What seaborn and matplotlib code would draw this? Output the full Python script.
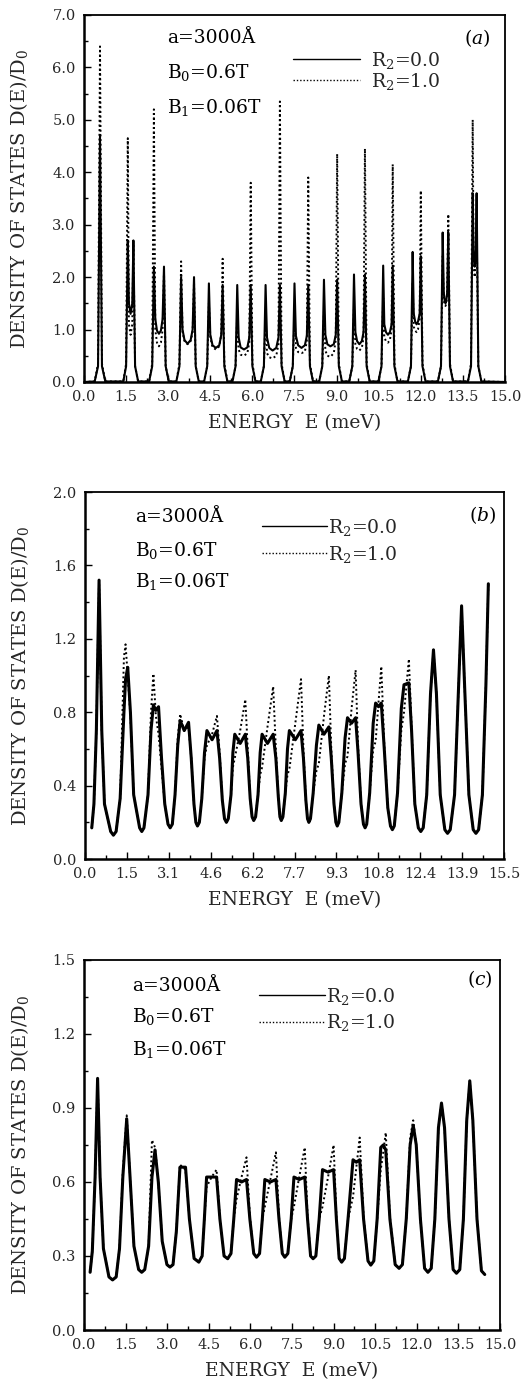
import matplotlib
matplotlib.use("Agg")
import matplotlib.pyplot as plt
import seaborn as sns
from matplotlib.ticker import FixedLocator, MultipleLocator

# ---------------- data ----------------
# Panel (a)
a_energy = [
    0.00, 0.38, 0.50, 0.57, 0.64, 0.76,
    1.40, 1.50, 1.56, 1.60, 1.66, 1.72, 1.76, 1.82, 1.93,
    2.32, 2.43, 2.49, 2.54, 2.60, 2.67, 2.74, 2.80, 2.85, 2.91, 3.02,
    3.29, 3.40, 3.46, 3.51, 3.58, 3.69, 3.80, 3.87, 3.92, 3.98, 4.09,
    4.28, 4.39, 4.45, 4.50, 4.58, 4.70, 4.82, 4.89, 4.94, 5.00, 5.11,
    5.29, 5.40, 5.46, 5.51, 5.58, 5.70, 5.82, 5.89, 5.94, 6.00, 6.11,
    6.30, 6.41, 6.47, 6.52, 6.60, 6.72, 6.85, 6.93, 6.98, 7.04, 7.15,
    7.33, 7.44, 7.50, 7.55, 7.63, 7.75, 7.87, 7.94, 7.99, 8.05, 8.16,
    8.38, 8.49, 8.55, 8.60, 8.67, 8.78, 8.90, 8.97, 9.02, 9.08, 9.19,
    9.45, 9.56, 9.62, 9.67, 9.73, 9.81, 9.90, 9.96, 10.01, 10.07, 10.18,
    10.49, 10.60, 10.66, 10.70, 10.76, 10.83, 10.90, 10.96, 11.00, 11.06, 11.17,
    11.54, 11.65, 11.71, 11.75, 11.80, 11.85, 11.90, 11.96, 12.00, 12.06, 12.17,
    12.61, 12.72, 12.78, 12.82, 12.85, 12.88, 12.91, 12.94, 12.98, 13.04, 13.15,
    13.68, 13.79, 13.85, 13.88, 13.90, 13.92, 13.94, 13.96, 13.99, 14.05, 14.16,
    15.00,
]
a_r0 = [
    0.0, 0.01, 0.3, 4.7, 0.3, 0.01,
    0.01, 0.3, 2.7, 1.5, 1.3, 1.5, 2.7, 0.3, 0.01,
    0.01, 0.3, 2.2, 1.2, 0.98, 0.92, 0.98, 1.2, 2.2, 0.3, 0.01,
    0.01, 0.3, 2.0, 1.0, 0.8, 0.73, 0.8, 1.0, 2.0, 0.3, 0.01,
    0.01, 0.3, 1.88, 0.9, 0.7, 0.65, 0.7, 0.9, 1.85, 0.3, 0.01,
    0.01, 0.3, 1.85, 0.85, 0.66, 0.62, 0.66, 0.85, 1.85, 0.3, 0.01,
    0.01, 0.3, 1.85, 0.85, 0.65, 0.6, 0.65, 0.85, 1.85, 0.3, 0.01,
    0.01, 0.3, 1.88, 0.88, 0.7, 0.65, 0.7, 0.88, 1.85, 0.3, 0.01,
    0.01, 0.3, 1.95, 0.9, 0.72, 0.68, 0.72, 0.9, 1.95, 0.3, 0.01,
    0.01, 0.3, 2.05, 0.95, 0.78, 0.72, 0.78, 0.95, 2.05, 0.3, 0.01,
    0.01, 0.3, 2.22, 1.1, 0.95, 0.9, 0.95, 1.1, 2.22, 0.3, 0.01,
    0.01, 0.3, 2.48, 1.3, 1.15, 1.1, 1.15, 1.3, 2.4, 0.3, 0.01,
    0.01, 0.3, 2.85, 1.7, 1.55, 1.5, 1.55, 1.7, 2.85, 0.3, 0.01,
    0.01, 0.3, 3.6, 2.5, 2.3, 2.2, 2.3, 2.5, 3.6, 0.3, 0.01,
    0.0,
]
a_r1 = [
    0.0, 0.01, 0.35, 6.4, 0.35, 0.01,
    0.01, 0.35, 4.65, 1.1, 0.9, 1.1, 2.6, 0.3, 0.01,
    0.01, 0.35, 5.2, 1.0, 0.75, 0.68, 0.75, 1.0, 2.1, 0.3, 0.01,
    0.01, 0.35, 2.3, 0.95, 0.78, 0.72, 0.78, 0.95, 1.9, 0.3, 0.01,
    0.01, 0.3, 1.5, 0.85, 0.66, 0.62, 0.68, 0.9, 2.35, 0.35, 0.01,
    0.01, 0.3, 1.3, 0.62, 0.52, 0.5, 0.55, 0.75, 3.8, 0.35, 0.01,
    0.01, 0.3, 1.25, 0.55, 0.47, 0.45, 0.5, 0.72, 5.35, 0.35, 0.01,
    0.01, 0.3, 1.3, 0.65, 0.57, 0.55, 0.58, 0.78, 3.9, 0.35, 0.01,
    0.01, 0.3, 1.35, 0.6, 0.5, 0.48, 0.55, 0.8, 4.35, 0.35, 0.01,
    0.01, 0.3, 1.45, 0.72, 0.63, 0.6, 0.65, 0.85, 4.45, 0.35, 0.01,
    0.01, 0.3, 1.6, 0.85, 0.78, 0.75, 0.8, 1.0, 4.15, 0.35, 0.01,
    0.01, 0.3, 1.9, 1.05, 0.98, 0.95, 1.0, 1.2, 3.65, 0.35, 0.01,
    0.01, 0.3, 2.4, 1.55, 1.48, 1.45, 1.5, 1.7, 3.2, 0.35, 0.01,
    0.01, 0.35, 5.0, 2.3, 2.1, 2.0, 2.1, 2.4, 3.0, 0.3, 0.01,
    0.0,
]

# Panel (b)
b_energy = [
    0.25, 0.33, 0.42, 0.52, 0.62, 0.72, 0.95, 1.05, 1.15, 1.30,
    1.44, 1.50, 1.58, 1.68, 1.80, 2.02, 2.10, 2.18, 2.33,
    2.44, 2.53, 2.62, 2.72, 2.83, 2.95, 3.07, 3.15, 3.23, 3.33,
    3.43, 3.52, 3.67, 3.83, 3.93, 4.03, 4.10, 4.16, 4.23, 4.32,
    4.42, 4.51, 4.70, 4.88, 4.98, 5.08, 5.16, 5.23, 5.30, 5.40,
    5.47, 5.54, 5.74, 5.93, 6.02, 6.11, 6.18, 6.24, 6.31, 6.40,
    6.48, 6.55, 6.75, 6.96, 7.06, 7.15, 7.21, 7.26, 7.32, 7.41,
    7.49, 7.56, 7.78, 7.99, 8.08, 8.17, 8.23, 8.28, 8.34, 8.44,
    8.56, 8.65, 8.84, 9.02, 9.11, 9.21, 9.28, 9.33, 9.39, 9.50,
    9.62, 9.71, 9.86, 10.01, 10.10, 10.21, 10.30, 10.36, 10.42, 10.53,
    10.66, 10.75, 10.86, 10.96, 11.07, 11.20, 11.30, 11.37, 11.44, 11.56,
    11.70, 11.80, 11.98, 12.08, 12.20, 12.33, 12.42, 12.51, 12.64,
    12.78, 12.89, 13.00, 13.14, 13.31, 13.41, 13.51, 13.67,
    13.82, 13.93, 14.04, 14.20, 14.36, 14.46, 14.56, 14.70,
    14.83, 14.92,
]
b_r0 = [
    0.17, 0.30, 0.70, 1.52, 0.70, 0.30, 0.15, 0.13, 0.15, 0.33,
    0.80, 0.98, 1.045, 0.80, 0.35, 0.17, 0.15, 0.17, 0.35,
    0.70, 0.84, 0.81, 0.83, 0.55, 0.30, 0.19, 0.17, 0.19, 0.35,
    0.62, 0.755, 0.70, 0.745, 0.55, 0.30, 0.20, 0.18, 0.20, 0.33,
    0.58, 0.70, 0.65, 0.70, 0.55, 0.32, 0.22, 0.20, 0.22, 0.35,
    0.58, 0.68, 0.63, 0.68, 0.55, 0.33, 0.23, 0.21, 0.23, 0.35,
    0.58, 0.68, 0.63, 0.68, 0.55, 0.34, 0.23, 0.21, 0.23, 0.36,
    0.60, 0.70, 0.65, 0.70, 0.55, 0.32, 0.22, 0.20, 0.22, 0.36,
    0.62, 0.73, 0.68, 0.72, 0.55, 0.30, 0.20, 0.18, 0.20, 0.36,
    0.66, 0.77, 0.74, 0.77, 0.58, 0.30, 0.19, 0.17, 0.19, 0.36,
    0.74, 0.85, 0.83, 0.85, 0.60, 0.28, 0.18, 0.16, 0.18, 0.36,
    0.82, 0.95, 0.96, 0.70, 0.30, 0.17, 0.15, 0.17, 0.35,
    0.90, 1.14, 0.90, 0.35, 0.16, 0.14, 0.16, 0.35,
    0.95, 1.38, 0.95, 0.35, 0.16, 0.14, 0.16, 0.35,
    0.95, 1.50,
]
b_r1 = [
    0.17, 0.30, 0.70, 1.52, 0.70, 0.30, 0.15, 0.13, 0.15, 0.33,
    1.10, 1.17, 1.00, 0.78, 0.35, 0.17, 0.15, 0.17, 0.35,
    0.80, 1.01, 0.78, 0.68, 0.50, 0.30, 0.19, 0.17, 0.19, 0.35,
    0.66, 0.79, 0.70, 0.72, 0.55, 0.30, 0.20, 0.18, 0.20, 0.33,
    0.55, 0.62, 0.68, 0.78, 0.58, 0.32, 0.22, 0.20, 0.22, 0.35,
    0.50, 0.55, 0.70, 0.87, 0.60, 0.33, 0.23, 0.21, 0.23, 0.35,
    0.46, 0.50, 0.72, 0.94, 0.60, 0.34, 0.23, 0.21, 0.23, 0.36,
    0.46, 0.49, 0.74, 0.98, 0.60, 0.32, 0.22, 0.20, 0.22, 0.36,
    0.48, 0.52, 0.78, 1.00, 0.60, 0.30, 0.20, 0.18, 0.20, 0.36,
    0.52, 0.56, 0.82, 1.03, 0.62, 0.30, 0.19, 0.17, 0.19, 0.36,
    0.60, 0.64, 0.86, 1.05, 0.62, 0.28, 0.18, 0.16, 0.18, 0.36,
    0.70, 0.80, 1.09, 0.72, 0.30, 0.17, 0.15, 0.17, 0.35,
    0.90, 1.14, 0.90, 0.35, 0.16, 0.14, 0.16, 0.35,
    0.95, 1.38, 0.95, 0.35, 0.16, 0.14, 0.16, 0.35,
    0.95, 1.50,
]

# Panel (c)
c_energy = [
    0.22, 0.30, 0.40, 0.49, 0.58, 0.70, 0.90, 1.03, 1.16, 1.28,
    1.40, 1.54, 1.66, 1.80, 1.97, 2.08, 2.19, 2.33,
    2.45, 2.56, 2.68, 2.82, 2.99, 3.10, 3.21, 3.33,
    3.46, 3.66, 3.80, 3.97, 4.14, 4.26, 4.34,
    4.42, 4.60, 4.78, 4.90, 5.05, 5.18, 5.30, 5.40,
    5.50, 5.68, 5.86, 5.98, 6.12, 6.22, 6.33, 6.43,
    6.52, 6.72, 6.92, 7.03, 7.15, 7.24, 7.35, 7.47,
    7.57, 7.76, 7.96, 8.06, 8.17, 8.26, 8.36, 8.48,
    8.60, 8.80, 9.00, 9.10, 9.20, 9.29, 9.39, 9.52,
    9.70, 9.82, 9.94, 10.08, 10.24, 10.34, 10.45, 10.57,
    10.70, 10.79, 10.88, 11.03, 11.22, 11.36, 11.48, 11.62,
    11.76, 11.87, 11.98, 12.13, 12.28, 12.40, 12.52, 12.65,
    12.78, 12.89, 13.00, 13.16, 13.31, 13.43, 13.55, 13.68,
    13.80, 13.91, 14.02, 14.17, 14.33, 14.45,
]
c_r0 = [
    0.234, 0.32, 0.62, 1.02, 0.62, 0.33, 0.215, 0.203, 0.215, 0.33,
    0.62, 0.856, 0.62, 0.34, 0.245, 0.234, 0.245, 0.34,
    0.62, 0.73, 0.60, 0.36, 0.265, 0.255, 0.265, 0.40,
    0.66, 0.66, 0.45, 0.29, 0.275, 0.30, 0.45,
    0.62, 0.62, 0.62, 0.45, 0.30, 0.289, 0.31, 0.45,
    0.61, 0.60, 0.61, 0.45, 0.31, 0.295, 0.31, 0.45,
    0.61, 0.60, 0.61, 0.45, 0.31, 0.295, 0.31, 0.45,
    0.62, 0.61, 0.62, 0.45, 0.30, 0.289, 0.30, 0.45,
    0.65, 0.64, 0.65, 0.45, 0.29, 0.275, 0.29, 0.45,
    0.69, 0.68, 0.69, 0.45, 0.28, 0.263, 0.28, 0.45,
    0.74, 0.75, 0.73, 0.45, 0.265, 0.25, 0.265, 0.45,
    0.75, 0.83, 0.75, 0.45, 0.25, 0.234, 0.25, 0.45,
    0.82, 0.92, 0.82, 0.45, 0.245, 0.23, 0.245, 0.45,
    0.85, 1.01, 0.85, 0.45, 0.24, 0.225,
]
c_r1 = [
    0.234, 0.32, 0.62, 1.02, 0.62, 0.33, 0.215, 0.203, 0.215, 0.33,
    0.64, 0.87, 0.62, 0.34, 0.245, 0.234, 0.245, 0.34,
    0.77, 0.74, 0.60, 0.36, 0.265, 0.255, 0.265, 0.40,
    0.67, 0.65, 0.45, 0.29, 0.275, 0.30, 0.45,
    0.58, 0.62, 0.65, 0.45, 0.30, 0.289, 0.31, 0.45,
    0.53, 0.62, 0.70, 0.46, 0.31, 0.295, 0.31, 0.45,
    0.50, 0.61, 0.72, 0.46, 0.31, 0.295, 0.31, 0.45,
    0.50, 0.62, 0.74, 0.46, 0.30, 0.289, 0.30, 0.45,
    0.50, 0.62, 0.75, 0.46, 0.29, 0.275, 0.29, 0.45,
    0.54, 0.66, 0.78, 0.46, 0.28, 0.263, 0.28, 0.45,
    0.65, 0.72, 0.80, 0.46, 0.265, 0.25, 0.265, 0.45,
    0.78, 0.85, 0.75, 0.45, 0.25, 0.234, 0.25, 0.45,
    0.82, 0.92, 0.82, 0.45, 0.245, 0.23, 0.245, 0.45,
    0.85, 1.01, 0.85, 0.45, 0.24, 0.225,
]

a_xticklabels = ["0.0", "1.5", "3.0", "4.5", "6.0", "7.5", "9.0", "10.5", "12.0", "13.5", "15.0"]
b_xticklabels = ["0.0", "1.5", "3.1", "4.6", "6.2", "7.7", "9.3", "10.8", "12.4", "13.9", "15.5"]
c_xticklabels = ["0.0", "1.5", "3.0", "4.5", "6.0", "7.5", "9.0", "10.5", "12.0", "13.5", "15.0"]
a_yticklabels = ["0.0", "1.0", "2.0", "3.0", "4.0", "5.0", "6.0", "7.0"]
b_yticklabels = ["0.0", "0.4", "0.8", "1.2", "1.6", "2.0"]
c_yticklabels = ["0.0", "0.3", "0.6", "0.9", "1.2", "1.5"]

params_text = ["a=3000Å", "B$_0$=0.6T", "B$_1$=0.06T"]
legend_labels = ["R$_2$=0.0", "R$_2$=1.0"]

for e, r0, r1 in [(a_energy, a_r0, a_r1), (b_energy, b_r0, b_r1), (c_energy, c_r0, c_r1)]:
    assert len(e) == len(r0) == len(r1), (len(e), len(r0), len(r1))

# ---------------- style ----------------
sns.set_theme(style="ticks")
plt.rcParams["font.family"] = ["DejaVu Serif"]
plt.rcParams["mathtext.fontset"] = "dejavuserif"
plt.rcParams["axes.edgecolor"] = "black"

fig = plt.figure(figsize=(5.29, 13.86), dpi=100)

panels = [
    dict(rect=[0.1588, 0.7244, 0.7958, 0.2648], e=a_energy, r0=a_r0, r1=a_r1,
         xmax=15.0, xlabels=a_xticklabels, ymax=7.0, ylabels=a_yticklabels,
         xminor=0.75, yminor=0.5, letter="$(a)$", lw=1.5,
         txt_x=0.197, txt_y=[0.937, 0.842, 0.749], let_xy=(0.934, 0.937),
         leg_xy=(0.496, 0.905), handlelength=3.6, handletextpad=0.55, labelspacing=0.0),
    dict(rect=[0.1607, 0.3802, 0.7921, 0.2648], e=b_energy, r0=b_r0, r1=b_r1,
         xmax=15.5, xlabels=b_xticklabels, ymax=2.0, ylabels=b_yticklabels,
         xminor=0.775, yminor=0.2, letter="$(b)$", lw=2.2,
         txt_x=0.119, txt_y=[0.932, 0.842, 0.755], let_xy=(0.950, 0.937),
         leg_xy=(0.422, 0.932), handlelength=3.5, handletextpad=0.05, labelspacing=0.3),
    dict(rect=[0.1588, 0.0404, 0.7864, 0.2670], e=c_energy, r0=c_r0, r1=c_r1,
         xmax=15.0, xlabels=c_xticklabels, ymax=1.5, ylabels=c_yticklabels,
         xminor=0.75, yminor=0.15, letter="$(c)$", lw=2.2,
         txt_x=0.115, txt_y=[0.930, 0.846, 0.757], let_xy=(0.952, 0.949),
         leg_xy=(0.421, 0.930), handlelength=3.5, handletextpad=0.05, labelspacing=0.3),
]

for p in panels:
    ax = fig.add_axes(p["rect"])
    sns.lineplot(x=p["e"], y=p["r0"], ax=ax, color="black", lw=p["lw"],
                 estimator=None, sort=False, label=legend_labels[0])
    sns.lineplot(x=p["e"], y=p["r1"], ax=ax, color="black", lw=1.4,
                 linestyle=(0, (1, 1.4)), estimator=None, sort=False,
                 label=legend_labels[1])

    ax.set_xlim(0, p["xmax"])
    ax.set_ylim(0, p["ymax"])
    nx = len(p["xlabels"])
    xt = [p["xmax"] * i / (nx - 1) for i in range(nx)]
    ax.xaxis.set_major_locator(FixedLocator(xt))
    ax.set_xticklabels(p["xlabels"])
    ax.xaxis.set_minor_locator(MultipleLocator(p["xminor"]))
    ny = len(p["ylabels"])
    yt = [p["ymax"] * i / (ny - 1) for i in range(ny)]
    ax.yaxis.set_major_locator(FixedLocator(yt))
    ax.set_yticklabels(p["ylabels"])
    ax.yaxis.set_minor_locator(MultipleLocator(p["yminor"]))

    ax.tick_params(which="both", direction="in", top=False, right=False,
                   labelsize=10.5, color="black", width=1.0)
    ax.tick_params(which="major", length=5, pad=6)
    ax.tick_params(which="minor", length=3)
    for side in ["left", "bottom"]:
        ax.spines[side].set_linewidth(1.8)
    for side in ["top", "right"]:
        ax.spines[side].set_linewidth(1.3)
        ax.spines[side].set_visible(True)

    ax.set_xlabel("ENERGY  E (meV)", fontsize=13.5, labelpad=7)
    ax.set_ylabel("DENSITY OF STATES D(E)/D$_0$", fontsize=14)
    ax.yaxis.set_label_coords(-0.128, 0.5)

    for t, y in zip(params_text, p["txt_y"]):
        ax.text(p["txt_x"], y, t, transform=ax.transAxes, ha="left", va="center",
                fontsize=13.5, color="black")
    ax.text(p["let_xy"][0], p["let_xy"][1], p["letter"], transform=ax.transAxes,
            ha="center", va="center", fontsize=13.5, color="black")

    lines = ax.get_lines()
    ax.legend(handles=[lines[0], lines[1]], labels=legend_labels,
              loc="upper left", bbox_to_anchor=p["leg_xy"], bbox_transform=ax.transAxes,
              frameon=False, borderpad=0, borderaxespad=0,
              handlelength=p["handlelength"], handletextpad=p["handletextpad"],
              labelspacing=p["labelspacing"], fontsize=13.5)
    for h in ax.get_legend().get_lines():
        h.set_linewidth(1.0)

fig.savefig("out.png", dpi=100)
